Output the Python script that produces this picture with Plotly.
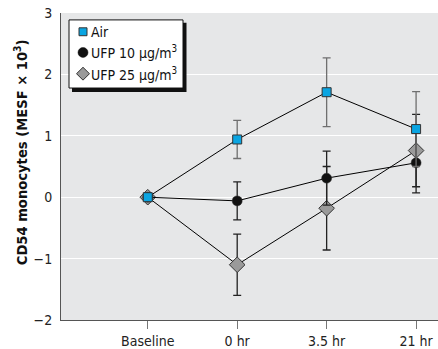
import plotly.graph_objects as go

categories = ["Baseline", "0 hr", "3.5 hr", "21 hr"]
air = [0, 0.94, 1.71, 1.11]
air_err = [0, 0.31, 0.56, 0.61]
ufp10 = [0, -0.06, 0.31, 0.56]
ufp10_err = [0, 0.31, 0.44, 0.49]
ufp25 = [0, -1.10, -0.18, 0.76]
ufp25_err = [0, 0.50, 0.68, 0.59]
legend_labels = ["Air", "UFP 10 μg/m<sup>3</sup>", "UFP 25 μg/m<sup>3</sup>"]

xpos = list(range(len(categories)))
FONT = "DejaVu Sans Condensed, Liberation Sans Narrow, sans-serif"
W, H = 438, 349
L, R, T, B = 61, 0, 13, 25
PW, PH = W - L - R, H - T - B


def px(x):
    return (x - L) / PW


def py(y):
    return (H - B - y) / PH


fig = go.Figure()

styles = [
    dict(symbol="square", color="#0aa5e2", size=9, lw=1, ecolor="#6f6f6f"),
    dict(symbol="circle", color="#111111", size=10, lw=0.5, ecolor="#222222"),
    dict(symbol="diamond", color="#9a9a9a", size=12, lw=1, ecolor="#222222"),
]
series = [(air, air_err), (ufp10, ufp10_err), (ufp25, ufp25_err)]

for i in [2, 1, 0]:
    s = styles[i]
    y, err = series[i]
    fig.add_trace(go.Scatter(
        x=xpos, y=y, name=legend_labels[i], mode="lines+markers",
        showlegend=False,
        line=dict(color="black", width=1),
        marker=dict(symbol=s["symbol"], color=s["color"], size=s["size"],
                    line=dict(color="#333333", width=s["lw"])),
        error_y=dict(type="data", array=err, visible=True,
                     color=s["ecolor"], thickness=1.3, width=4),
    ))

# manual legend box with drop shadow
fig.add_shape(type="rect", xref="paper", yref="paper",
              x0=px(72), x1=px(186.5), y0=py(93), y1=py(23),
              fillcolor="#111111", line=dict(width=0), layer="above")
fig.add_shape(type="rect", xref="paper", yref="paper",
              x0=px(69), x1=px(183), y0=py(89), y1=py(20),
              fillcolor="white", line=dict(color="#111111", width=1), layer="above")

rows = [32, 53, 74.5]
mx = 83
# square
fig.add_shape(type="rect", xref="paper", yref="paper",
              x0=px(mx - 4), x1=px(mx + 4), y0=py(rows[0] + 4), y1=py(rows[0] - 4),
              fillcolor="#0aa5e2", line=dict(color="#333333", width=1), layer="above")
# circle
fig.add_shape(type="circle", xref="paper", yref="paper",
              x0=px(mx - 5), x1=px(mx + 5), y0=py(rows[1] + 5), y1=py(rows[1] - 5),
              fillcolor="#111111", line=dict(color="#111111", width=0.5), layer="above")
# diamond
r = 6.5
fig.add_shape(type="path", xref="paper", yref="paper",
              path=(f"M {px(mx - r)} {py(rows[2])} L {px(mx)} {py(rows[2] - r)} "
                    f"L {px(mx + r)} {py(rows[2])} L {px(mx)} {py(rows[2] + r)} Z"),
              fillcolor="#9a9a9a", line=dict(color="#333333", width=1), layer="above")

for lab, ry in zip(legend_labels, rows):
    fig.add_annotation(x=px(89), y=py(ry), xref="paper", yref="paper",
                       text=lab, showarrow=False, xanchor="left", yanchor="middle",
                       font=dict(size=14, color="#111111"))

# y-axis title
fig.add_annotation(x=px(21), y=py(154), xref="paper", yref="paper",
                   text="<b>CD54 monocytes (MESF × 10<sup>3</sup>)</b>",
                   textangle=-90, showarrow=False, xanchor="center", yanchor="middle",
                   font=dict(size=14.6, color="#111111"))

fig.update_layout(
    width=W, height=H,
    margin=dict(l=L, r=R, t=T, b=B),
    paper_bgcolor="white", plot_bgcolor="#e6e7e8",
    font=dict(family=FONT, size=14, color="#222222"),
    showlegend=False,
    xaxis=dict(range=[-0.97, 3.245], tickmode="array", tickvals=xpos,
               ticktext=categories, showgrid=False, zeroline=False,
               showline=True, linecolor="#555555", linewidth=1,
               ticks="outside", ticklen=8, tickcolor="#777777"),
    yaxis=dict(range=[-2, 3], tickvals=[-2, -1, 0, 1, 2, 3],
               ticktext=["\u22122", "\u22121", "0", "1", "2", "3"],
               showgrid=True, gridcolor="white", gridwidth=1, zeroline=False,
               showline=True, linecolor="#555555", linewidth=1, ticks="",
               ticklabelstandoff=5),
)

fig.write_html("out.html")
